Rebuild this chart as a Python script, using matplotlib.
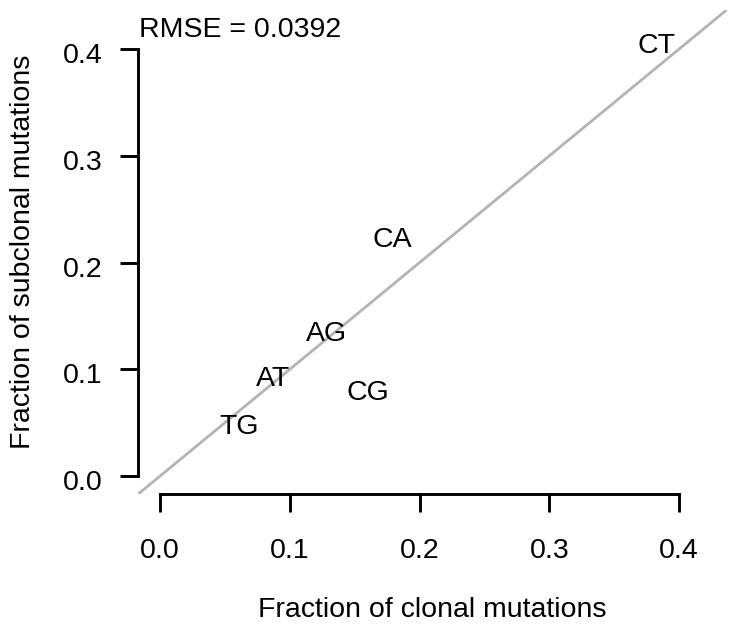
import matplotlib
matplotlib.use("Agg")
import matplotlib.pyplot as plt
import matplotlib.transforms as mtransforms

# mutation-type fractions: clonal (x) vs subclonal (y)
mut_types = ["CT", "CA", "AG", "AT", "CG", "TG"]
clonal = [0.383, 0.179, 0.128, 0.087, 0.160, 0.061]
subclonal = [0.406, 0.224, 0.136, 0.094, 0.081, 0.049]
rmse_text = "RMSE = 0.0392"

ticks = [0.0, 0.1, 0.2, 0.3, 0.4]
tick_labels = ["0.0", "0.1", "0.2", "0.3", "0.4"]

FS = 20.5
plt.rcParams["font.family"] = ["Liberation Sans", "DejaVu Sans"]
plt.rcParams["font.size"] = FS

fig = plt.figure(figsize=(7.31, 6.35), dpi=100)
ax = fig.add_axes([0.1893, 0.2222, 0.8048, 0.7622])

lim = (-0.0168, 0.4368)
ax.set_xlim(lim)
ax.set_ylim(lim)

# y = x reference line across the whole plot region
ax.plot(lim, lim, color="#b3b3b3", lw=2.0, zorder=1)

# labels centred on their points (shift baseline down by half cap height)
trans = mtransforms.offset_copy(ax.transData, fig=fig, x=0, y=-0.358 * FS, units="points")
for lab, x, y in zip(mut_types, clonal, subclonal):
    ax.text(x, y, lab, ha="center", va="baseline", transform=trans, fontsize=FS)

ax.text(-0.0163, 0.4111, rmse_text, ha="left", va="baseline", fontsize=FS)

# R-style detached axes
for side in ["top", "right"]:
    ax.spines[side].set_visible(False)
for side in ["left", "bottom"]:
    ax.spines[side].set_linewidth(2.1)
    ax.spines[side].set_bounds(0, 0.4)

ax.set_xticks(ticks)
ax.set_xticklabels(tick_labels)
ax.set_yticks(ticks)
ax.set_yticklabels(tick_labels)
ax.tick_params(axis="both", length=13, width=2.1, labelsize=FS)
ax.tick_params(axis="x", pad=19)
ax.tick_params(axis="y", pad=13)

# y tick labels sit slightly below their ticks
ydown = mtransforms.ScaledTranslation(0, -3 / 72, fig.dpi_scale_trans)
for lbl in ax.get_yticklabels():
    lbl.set_transform(lbl.get_transform() + ydown)

fig.text(432 / 731, (635 - 617) / 635, "Fraction of clonal mutations",
         ha="center", va="baseline", fontsize=FS)
fig.text(23 / 731, (635 - 252) / 635, "Fraction of subclonal mutations",
         ha="center", va="center", rotation=90, fontsize=FS)

fig.savefig("out.png", dpi=100)
